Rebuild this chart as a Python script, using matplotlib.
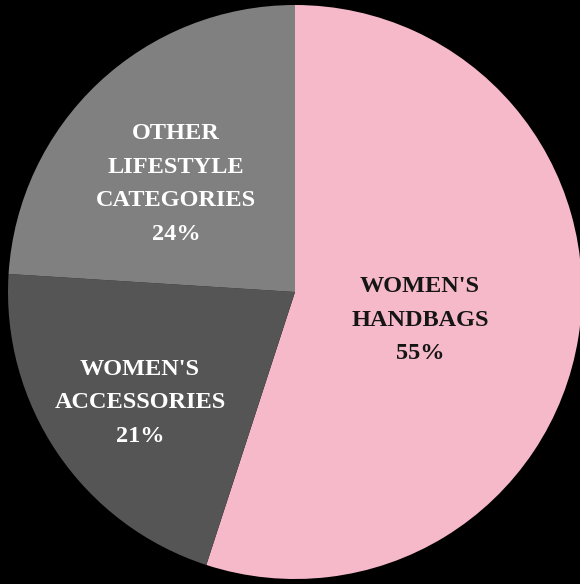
import matplotlib
matplotlib.use("Agg")
import matplotlib.pyplot as plt

categories = ["WOMEN'S\nHANDBAGS", "WOMEN'S\nACCESSORIES", "OTHER\nLIFESTYLE\nCATEGORIES"]
shares = [55, 21, 24]
colors = ["#F6B9C9", "#555555", "#808080"]
text_colors = ["#151515", "#FFFFFF", "#FFFFFF"]
label_pos = [(420, 264), (140, 181), (176, 400)]  # pixel positions (y from bottom)

W, H = 580, 584
fig = plt.figure(figsize=(W / 100, H / 100), dpi=100, facecolor="black")
ax = fig.add_axes([0, 0, 1, 1])
ax.set_facecolor("black")

cx, cy, r = 295, 584 - 292, 287
ax.pie(shares, colors=colors, startangle=90, counterclock=False,
       center=(cx, cy), radius=r, frame=True,
       wedgeprops=dict(linewidth=0))
ax.set_xlim(0, W)
ax.set_ylim(0, H)
ax.axis("off")
ax.set_aspect("auto")

for cat, s, tc, (x, y) in zip(categories, shares, text_colors, label_pos):
    ax.text(x, y, f"{cat}\n{s}%", ha="center", va="center", color=tc,
            fontsize=17.5, fontweight="bold", family="Liberation Serif",
            linespacing=1.78)

fig.savefig("out.png", dpi=100, facecolor="black")
